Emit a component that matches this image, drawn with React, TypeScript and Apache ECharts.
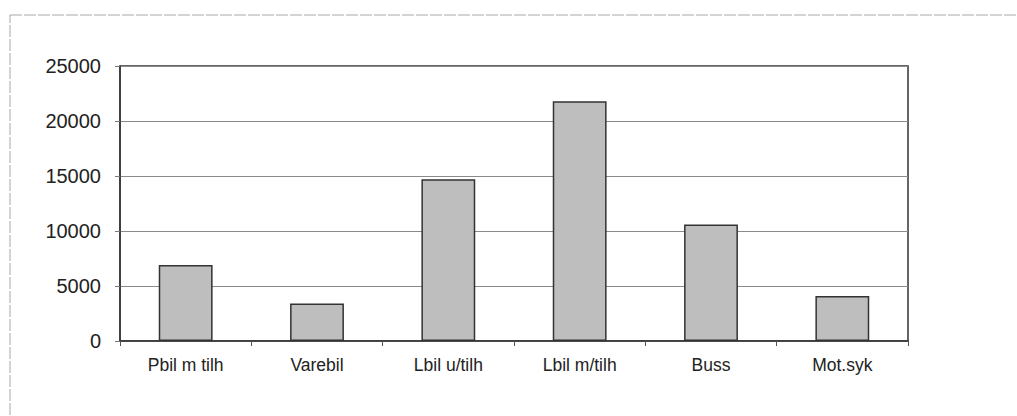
import React, { useEffect, useRef } from "react";
import * as echarts from "echarts";

const categories = ["Pbil m tilh", "Varebil", "Lbil u/tilh", "Lbil m/tilh", "Buss", "Mot.syk"];
const values = [6900, 3400, 14700, 21800, 10600, 4100];
const yTicks = [0, 5000, 10000, 15000, 20000, 25000];

export default function App() {
  const ref = useRef<HTMLDivElement>(null);
  useEffect(() => {
    if (!ref.current) return;
    const chart = echarts.init(ref.current, null, { renderer: "svg" });
    chart.setOption({
      animation: false,
      backgroundColor: "#ffffff",
      textStyle: { fontFamily: "Liberation Sans, Arial, sans-serif" },
      graphic: [
        {
          type: "rect",
          shape: { x: 10, y: 15, width: 1030, height: 430 },
          style: { fill: "none", stroke: "#a8a8a8", lineWidth: 1, lineDash: [12, 2] },
          silent: true,
        },
      ],
      grid: { left: 120, right: 109, top: 66, bottom: 75, show: true, borderColor: "#333", borderWidth: 1.5 },
      xAxis: {
        type: "category",
        data: categories,
        axisLine: { show: true, lineStyle: { color: "#333", width: 1.5 } },
        axisTick: { show: true, length: 5, lineStyle: { color: "#555" } },
        axisLabel: { color: "#222", fontSize: 17.5, margin: 15 },
      },
      yAxis: {
        type: "value",
        min: yTicks[0],
        max: yTicks[yTicks.length - 1],
        interval: 5000,
        axisLine: { show: true, lineStyle: { color: "#333", width: 1.5 } },
        axisTick: { show: true, length: 5, lineStyle: { color: "#777" } },
        axisLabel: { color: "#222", fontSize: 20, margin: 19, formatter: (v: number) => String(v) },
        splitLine: { show: true, lineStyle: { color: "#8a8a8a", width: 1 } },
      },
      series: [
        {
          type: "bar",
          data: values,
          barWidth: "41%",
          itemStyle: { color: "#bebebe", borderColor: "#333", borderWidth: 1.5 },
        },
      ],
    });
    return () => chart.dispose();
  }, []);
  return (
    <div
      ref={ref}
      style={{ position: "fixed", left: 0, top: 0, width: 1017, height: 416, background: "#fff" }}
    />
  );
}
